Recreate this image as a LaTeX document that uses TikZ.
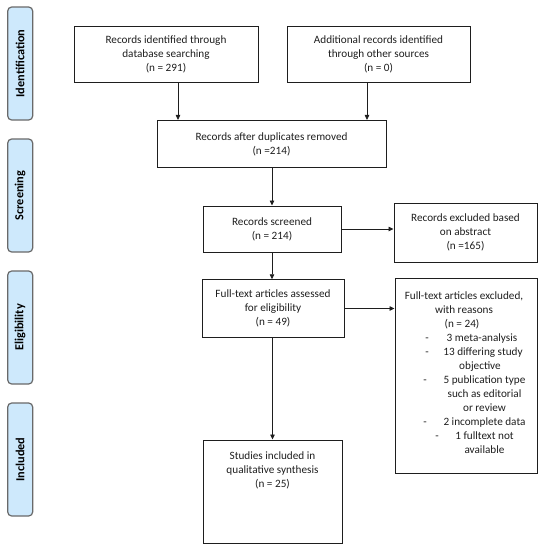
\documentclass[tikz,border=0pt]{standalone}
\usepackage{fontspec}
\setmainfont{Carlito}
\usetikzlibrary{arrows.meta}
\definecolor{tabfill}{RGB}{206,233,252}
\definecolor{tabline}{RGB}{105,105,105}
\definecolor{inkc}{RGB}{30,30,30}
\begin{document}
\begin{tikzpicture}[x=1pt,y=-1pt,
  box/.style={draw=inkc, line width=1pt, inner sep=0pt, align=center,
    font=\fontsize{11.2}{14}\selectfont, text=inkc},
  para/.style={inner sep=0pt, align=center, font=\fontsize{11.2}{14}\selectfont,
    text=inkc},
  txt/.style={inner sep=0pt, align=center, font=\fontsize{11.2}{14}\selectfont,
    text=inkc, text height=8pt, text depth=3pt},
  tab/.style={draw=tabline, fill=tabfill, line width=1.2pt, rounded corners=4pt,
    rotate=90, inner sep=0pt, minimum width=113pt, minimum height=25pt,
    font=\bfseries\fontsize{12.3}{14}\selectfont},
  arr/.style={-{Triangle[length=5pt,width=4.5pt]}, line width=0.8pt, draw=inkc}]
\useasboundingbox (0,0) rectangle (545,550);

% phase tabs
\node[tab] (t1) at (20.2,63.5) {Identification};
\node[tab] (t2) at (20.2,195.5) {Screening};
\node[tab] (t3) at (20.2,327.5) {Eligibility};
\node[tab] (t4) at (20.2,459.5) {Included};

% boxes
\node[box, minimum width=184pt, minimum height=56pt] (b1) at (166,54)
  {Records identified through\\database searching\\(n = 291)};
\node[box, minimum width=183pt, minimum height=56pt] (b2) at (378.5,54)
  {Additional records identified\\through other sources\\(n = 0)};
\node[box, minimum width=229pt, minimum height=47.5pt] (b3) at (271.5,144.2)
  {Records after duplicates removed\\(n =214)};
\node[box, minimum width=138pt, minimum height=46pt] (b4) at (272,229)
  {Records screened\\(n = 214)};
\node[box, minimum width=143pt, minimum height=59pt] (b5) at (465.5,232.5)
  {Records excluded based\\on abstract\\(n =165)};
\node[box, minimum width=142pt, minimum height=57.5pt] (b6) at (273,308.5)
  {Full-text articles assessed\\for eligibility\\(n = 49)};
\node[box, minimum width=142pt, minimum height=195pt] (b7) at (466,375.5) {};
\node[box, minimum width=139pt, minimum height=103pt] (b8) at (272.5,491.5) {};

% text of the lower boxes
\node[para] (b8t) at (272.5,470) {Studies included in\\qualitative synthesis\\(n = 25)};

\node[txt] (e1) at (464,297) {Full-text articles excluded,};
\node[txt] (e2) at (464,311) {with reasons};
\node[txt] (e3) at (462,325) {(n = 24)};
\node[txt] (d1) at (427,339) {-};
\node[txt] (e4) at (482,339) {3 meta-analysis};
\node[txt] (d2) at (427,353) {-};
\node[txt] (e5) at (483,353) {13 differing study};
\node[txt] (e6) at (480,367) {objective};
\node[txt] (d3) at (425,381) {-};
\node[txt] (e7) at (484.5,381) {5 publication type};
\node[txt] (e8) at (484.5,395) {such as editorial};
\node[txt] (e9) at (484.5,409) {or review};
\node[txt] (d4) at (425,423) {-};
\node[txt] (e10) at (484.5,423) {2 incomplete data};
\node[txt] (d5) at (437,437) {-};
\node[txt] (e11) at (484.5,437) {1 fulltext not};
\node[txt] (e12) at (484.5,451) {available};

% connectors
\draw[arr] ([xshift=12pt]b1.south) -- ([xshift=12pt]b1.south |- b3.north);
\draw[arr] ([xshift=-11.5pt]b2.south) -- ([xshift=-11.5pt]b2.south |- b3.north);
\draw[arr] (b3.south -| b4.north) -- (b4.north);
\draw[arr] (b4.east) -- (b4.east -| b5.west);
\draw[arr] (b4.south) -- (b4.south |- b6.north);
\draw[arr] (b6.east) -- (b6.east -| b7.west);
\draw[arr] (b6.south -| b8.north) -- (b8.north);
\end{tikzpicture}
\end{document}
